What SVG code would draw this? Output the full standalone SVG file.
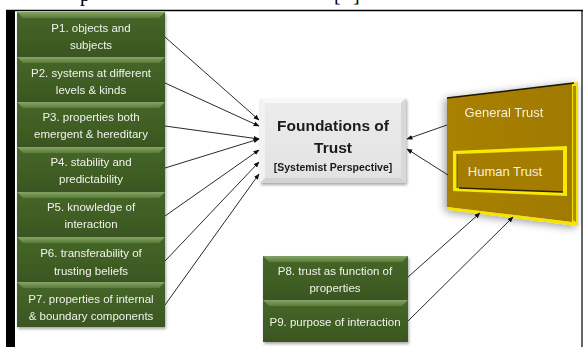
<svg xmlns="http://www.w3.org/2000/svg" width="584" height="347" viewBox="0 0 584 347">
  <defs>
    <linearGradient id="gBevelTop" x1="0" y1="0" x2="0" y2="1">
      <stop offset="0" stop-color="#86a466"/>
      <stop offset="1" stop-color="#5a7c3a"/>
    </linearGradient>
    <linearGradient id="gBody" x1="0" y1="0" x2="0" y2="1">
      <stop offset="0" stop-color="#46672a"/>
      <stop offset="1" stop-color="#3a5620"/>
    </linearGradient>
    <linearGradient id="grayBody" x1="0" y1="0" x2="0" y2="1">
      <stop offset="0" stop-color="#ececec"/>
      <stop offset="1" stop-color="#e2e2e2"/>
    </linearGradient>
    <linearGradient id="goldBody" x1="0" y1="0" x2="1" y2="0">
      <stop offset="0" stop-color="#a88100"/>
      <stop offset="1" stop-color="#a07a00"/>
    </linearGradient>
    <filter id="shadow" x="-10%" y="-10%" width="130%" height="130%">
      <feGaussianBlur in="SourceAlpha" stdDeviation="1.5"/>
      <feOffset dx="1" dy="2" result="b"/>
      <feComponentTransfer><feFuncA type="linear" slope="0.35"/></feComponentTransfer>
      <feMerge><feMergeNode/><feMergeNode in="SourceGraphic"/></feMerge>
    </filter>
    <filter id="glow" x="-20%" y="-20%" width="140%" height="140%">
      <feGaussianBlur in="SourceAlpha" stdDeviation="4"/>
      <feOffset dx="-2" dy="2" result="b"/>
      <feComponentTransfer><feFuncA type="linear" slope="0.4"/></feComponentTransfer>
      <feMerge><feMergeNode/><feMergeNode in="SourceGraphic"/></feMerge>
    </filter>
    <marker id="arrow" viewBox="0 0 10 10" refX="9" refY="5" markerWidth="6" markerHeight="6" orient="auto" markerUnits="userSpaceOnUse">
      <path d="M0,1 L10,5 L0,9 Z" fill="#111"/>
    </marker>
  </defs>
  <style>
    .p { font-family: "Liberation Sans", Arial, sans-serif; font-size: 11.5px; fill: #f2f2ea; text-anchor: middle; }
    .gold { font-family: "Liberation Sans", Arial, sans-serif; font-size: 13px; fill: #f6f0d8; text-anchor: middle; }
    .title { font-family: "Liberation Sans", Arial, sans-serif; font-weight: bold; fill: #1a1a1a; text-anchor: middle; }
    .cap { font-family: "Liberation Serif", "Times New Roman", serif; font-size: 20px; fill: #000; }
    .conn line { stroke: #2a2a2a; stroke-width: 1; marker-end: url(#arrow); }
  </style>

  <rect width="584" height="347" fill="#ffffff"/>

  <!-- caption line above the frame, cut by the top edge -->
  <text class="cap" x="80" y="0.5">p</text>
  <text class="cap" x="334" y="0.5">[</text>
  <text class="cap" x="353" y="0.5">]</text>

  <!-- frame -->
  <g id="frame">
    <line x1="6" y1="10.5" x2="583" y2="10.5" stroke="#000" stroke-width="1.5"/>
    <rect x="6" y="10" width="9" height="337" fill="#000"/>
    <line x1="582" y1="10" x2="582" y2="347" stroke="#000" stroke-width="1.2"/>
  </g>

  <!-- left column of properties -->
  <g id="p1" filter="url(#shadow)">
    <rect x="17" y="12" width="148" height="45" fill="url(#gBody)"/>
    <polygon points="17,12 165,12 159,18 23,18" fill="url(#gBevelTop)"/>
    <text class="p" x="91" y="32">P1. objects and</text>
    <text class="p" x="91" y="49">subjects</text>
  </g>
  <g id="p2" filter="url(#shadow)">
    <rect x="17" y="57" width="148" height="45" fill="url(#gBody)"/>
    <polygon points="17,57 165,57 159,63 23,63" fill="url(#gBevelTop)"/>
    <text class="p" x="91" y="77">P2. systems at different</text>
    <text class="p" x="91" y="94">levels &amp; kinds</text>
  </g>
  <g id="p3" filter="url(#shadow)">
    <rect x="17" y="102" width="148" height="45" fill="url(#gBody)"/>
    <polygon points="17,102 165,102 159,108 23,108" fill="url(#gBevelTop)"/>
    <text class="p" x="91" y="121">P3. properties both</text>
    <text class="p" x="91" y="138">emergent &amp; hereditary</text>
  </g>
  <g id="p4" filter="url(#shadow)">
    <rect x="17" y="147" width="148" height="45" fill="url(#gBody)"/>
    <polygon points="17,147 165,147 159,153 23,153" fill="url(#gBevelTop)"/>
    <text class="p" x="91" y="166">P4. stability and</text>
    <text class="p" x="91" y="183">predictability</text>
  </g>
  <g id="p5" filter="url(#shadow)">
    <rect x="17" y="192" width="148" height="45" fill="url(#gBody)"/>
    <polygon points="17,192 165,192 159,198 23,198" fill="url(#gBevelTop)"/>
    <text class="p" x="91" y="211">P5. knowledge of</text>
    <text class="p" x="91" y="228">interaction</text>
  </g>
  <g id="p6" filter="url(#shadow)">
    <rect x="17" y="237" width="148" height="45" fill="url(#gBody)"/>
    <polygon points="17,237 165,237 159,243 23,243" fill="url(#gBevelTop)"/>
    <text class="p" x="91" y="257">P6. transferability of</text>
    <text class="p" x="91" y="275">trusting beliefs</text>
  </g>
  <g id="p7" filter="url(#shadow)">
    <rect x="17" y="282" width="148" height="45" fill="url(#gBody)"/>
    <polygon points="17,282 165,282 159,288 23,288" fill="url(#gBevelTop)"/>
    <text class="p" x="91" y="303">P7. properties of internal</text>
    <text class="p" x="91" y="320">&amp; boundary components</text>
  </g>

  <!-- central concept -->
  <g id="foundations" filter="url(#shadow)">
    <rect x="260" y="98" width="146" height="85" fill="url(#grayBody)"/>
    <polygon points="260,98 406,98 401,103 265,103" fill="#f8f8f8"/>
    <polygon points="260,183 406,183 401,178 265,178" fill="#d2d2d2"/>
    <polygon points="260,98 265,103 265,178 260,183" fill="#f2f2f2"/>
    <polygon points="406,98 401,103 401,178 406,183" fill="#d8d8d8"/>
    <text class="title" x="333" y="131" font-size="15.5px">Foundations of</text>
    <text class="title" x="333" y="153" font-size="15.5px">Trust</text>
    <text class="title" x="333" y="171" font-size="10.5px">[Systemist Perspective]</text>
  </g>

  <!-- trust types panel -->
  <g id="trust-panel" filter="url(#glow)">
    <polygon points="447,98 572,83 572,222 447,207" fill="url(#goldBody)"/>
    <polygon points="572,83 578,82 578,226 572,222" fill="#f2e200"/>
    <polygon points="573,86 576,86 576,222 573,220" fill="#b08a00"/>
    <polygon points="447,207 572,222 578,226 449,210" fill="#f4e400"/>
    <line x1="447" y1="98" x2="574" y2="83" stroke="#1a1400" stroke-width="1.5"/>
    <text class="gold" x="504" y="117">General Trust</text>
  </g>
  <g id="human-trust">
    <polygon points="453,151 567,146 567,196 453,191" fill="#f7ea00"/>
    <polygon points="457,154 563,150 563,192 457,188" fill="#a47d00"/>
    <line x1="459" y1="188" x2="563" y2="192" stroke="#2a2000" stroke-width="1.5"/>
    <line x1="457" y1="154" x2="457" y2="188" stroke="#6a5000" stroke-width="1"/>
    <text class="gold" x="505" y="176">Human Trust</text>
  </g>

  <!-- bottom properties -->
  <g id="p8" filter="url(#shadow)">
    <rect x="263" y="256" width="145" height="44" fill="url(#gBody)"/>
    <polygon points="263,256 408,256 402,262 269,262" fill="url(#gBevelTop)"/>
    <text class="p" x="335" y="275">P8. trust as function of</text>
    <text class="p" x="335" y="292">properties</text>
  </g>
  <g id="p9" filter="url(#shadow)">
    <rect x="263" y="300" width="145" height="42" fill="url(#gBody)"/>
    <polygon points="263,300 408,300 402,306 269,306" fill="url(#gBevelTop)"/>
    <text class="p" x="335" y="326">P9. purpose of interaction</text>
  </g>

  <!-- connectors -->
  <g id="connectors" class="conn">
    <line x1="165" y1="37" x2="259" y2="120"/>
    <line x1="165" y1="83" x2="259" y2="126"/>
    <line x1="165" y1="126" x2="259" y2="139"/>
    <line x1="165" y1="168" x2="259" y2="139"/>
    <line x1="165" y1="216" x2="259" y2="150"/>
    <line x1="165" y1="261" x2="259" y2="162"/>
    <line x1="165" y1="305" x2="259" y2="174"/>
    <line x1="447" y1="125" x2="407" y2="139"/>
    <line x1="448" y1="175" x2="407" y2="149"/>
    <line x1="408" y1="277" x2="480" y2="213"/>
    <line x1="408" y1="321" x2="513" y2="217"/>
  </g>
</svg>
